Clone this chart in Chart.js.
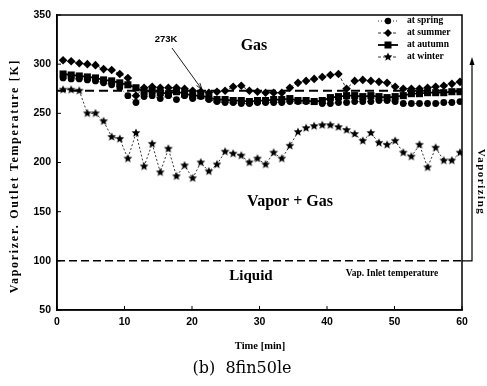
<!DOCTYPE html>
<html><head><meta charset="utf-8">
<script src="https://cdn.jsdelivr.net/npm/chart.js@4/dist/chart.umd.min.js"></script>
<style>html,body{margin:0;padding:0;background:#fff;}#wrap{position:relative;width:487px;height:386px;}</style>
</head><body><div id="wrap"><canvas id="c" width="487" height="386"></canvas></div>
<script>
// ---- data ----
const times = [0.9,2.1,3.3,4.5,5.7,6.9,8.1,9.3,10.5,11.7,12.9,14.1,15.3,16.5,17.7,18.9,20.1,21.3,22.5,23.7,24.9,26.1,27.3,28.5,29.7,30.9,32.1,33.3,34.5,35.7,36.9,38.1,39.3,40.5,41.7,42.9,44.1,45.3,46.5,47.7,48.9,50.1,51.3,52.5,53.7,54.9,56.1,57.3,58.5,59.7];
const spring = [286,285,285,284,283,281,279,276,268,261,267,268,265,268,264,268,265,267,264,262,261,261,260,260,261,261,261,261,262,262,262,262,260,260,261,261,262,262,262,263,263,262,260,260,260,260,260,261,261,262];
const summer = [304,303,301,300,299,295,294,290,286,268,276,277,276,276,276,275,273,272,271,272,273,277,278,273,272,271,271,271,276,281,283,285,287,289,290,275,283,284,283,282,281,277,275,275,275,276,277,278,280,282];
const autumn = [290,289,288,287,286,284,283,281,279,276,272,273,271,270,272,270,268,268,266,264,264,263,263,262,263,263,264,264,265,263,263,262,263,266,267,268,268,267,268,267,266,267,268,270,270,271,271,271,272,272];
const winter = [274,274,273,250,250,242,226,224,204,230,196,219,190,214,186,197,184,200,191,198,211,209,207,200,204,198,210,204,217,231,235,237,238,238,236,233,229,222,230,220,218,222,210,206,218,195,215,202,202,210];
const seriesNames = ['at spring','at summer','at autumn','at winter'];
const xTicks = [0,10,20,30,40,50,60];
const yTicks = [50,100,150,200,250,300,350];
const gasTemp = [273,273];      // 273K reference line
const inletTemp = [100,100];    // Vap. inlet temperature line
const refX = [0,60];

function starCanvas(r){
  const s=Math.ceil(r*2+2);const c=document.createElement('canvas');c.width=s;c.height=s;
  const g=c.getContext('2d');g.fillStyle='#000';g.beginPath();
  for(let i=0;i<10;i++){const a=-Math.PI/2+i*Math.PI/5;const rr=i%2?r*0.45:r;g.lineTo(s/2+rr*Math.cos(a),s/2+rr*Math.sin(a));}
  g.closePath();g.fill();return c;
}
const starImg = starCanvas(4.6);
const pts = arr => arr.map((v,i)=>({x:times[i],y:v}));
const refPts = arr => arr.map((v,i)=>({x:refX[i],y:v}));

const F_SERIF = '"Liberation Serif","Times New Roman",serif';
const F_SANS = '"Liberation Sans",Arial,sans-serif';
const F_CAP = '"DejaVu Serif",serif';

function legendSample(ctx,x,y,i){
  ctx.save();ctx.strokeStyle='#000';ctx.fillStyle='#000';
  const styles=[{w:0.8,d:[1,2]},{w:0.8,d:[3,2]},{w:1.8,d:[]},{w:0.8,d:[3,2]}];
  ctx.lineWidth=styles[i].w;ctx.setLineDash(styles[i].d);
  ctx.beginPath();ctx.moveTo(x-10,y);ctx.lineTo(x+10,y);ctx.stroke();ctx.setLineDash([]);
  if(i===0){ctx.beginPath();ctx.arc(x,y,3.2,0,Math.PI*2);ctx.fill();}
  else if(i===1){ctx.beginPath();ctx.moveTo(x,y-4);ctx.lineTo(x+4,y);ctx.lineTo(x,y+4);ctx.lineTo(x-4,y);ctx.closePath();ctx.fill();}
  else if(i===2){ctx.fillRect(x-3.5,y-3.5,7,7);}
  else {ctx.drawImage(starImg,x-starImg.width/2,y-starImg.height/2);}
  ctx.restore();
}

const decor = {
  id:'decor',
  afterDraw(chart){
    const ctx=chart.ctx, a=chart.chartArea, xs=chart.scales.x, ys=chart.scales.y;
    ctx.save();
    ctx.strokeStyle='#000';ctx.fillStyle='#000';
    // frame
    ctx.lineWidth=1.5;ctx.strokeRect(a.left,a.top,a.right-a.left,a.bottom-a.top);
    // inside ticks
    ctx.lineWidth=1;
    xTicks.forEach(v=>{const px=xs.getPixelForValue(v);ctx.beginPath();ctx.moveTo(px,a.bottom);ctx.lineTo(px,a.bottom-4);ctx.stroke();});
    yTicks.forEach(v=>{const py=ys.getPixelForValue(v);ctx.beginPath();ctx.moveTo(a.left,py);ctx.lineTo(a.left+4,py);ctx.stroke();});
    // region labels
    ctx.textAlign='center';ctx.textBaseline='middle';
    ctx.font='bold 16px '+F_SERIF;ctx.fillText('Gas',254,46);
    ctx.fillText('Vapor + Gas',290,202);
    ctx.font='bold 15px '+F_SERIF;ctx.fillText('Liquid',251,276);
    ctx.font='bold 9.5px '+F_SERIF;ctx.fillText('Vap. Inlet temperature',392,274);
    ctx.font='bold 9.5px '+F_SANS;ctx.fillText('273K',166,39);
    // 273K arrow
    const tx=xs.getPixelForValue(21.5), ty=ys.getPixelForValue(273);
    ctx.lineWidth=0.9;ctx.beginPath();ctx.moveTo(172,48);ctx.lineTo(tx,ty-1);ctx.stroke();
    let ang=Math.atan2(ty-1-48,tx-172);
    ctx.beginPath();ctx.moveTo(tx,ty-1);ctx.lineTo(tx-7*Math.cos(ang-0.3),ty-1-7*Math.sin(ang-0.3));
    ctx.moveTo(tx,ty-1);ctx.lineTo(tx-7*Math.cos(ang+0.3),ty-1-7*Math.sin(ang+0.3));ctx.stroke();
    // vaporizing arrow
    const y100=ys.getPixelForValue(100);
    ctx.lineWidth=1.2;ctx.beginPath();ctx.moveTo(a.right,y100);ctx.lineTo(472,y100);ctx.lineTo(472,60);ctx.stroke();
    ctx.beginPath();ctx.moveTo(472,57);ctx.lineTo(469.5,65);ctx.lineTo(474.5,65);ctx.closePath();ctx.fill();
    ctx.save();ctx.translate(481,182);ctx.rotate(Math.PI/2);ctx.font='bold 11px '+F_SERIF;
    if('letterSpacing' in ctx) ctx.letterSpacing='1.5px';
    ctx.fillText('Vaporizing',0,0);ctx.restore();
    // legend
    ctx.textAlign='left';ctx.font='bold 9.5px '+F_SERIF;
    const ly=[21,33,45,57];
    seriesNames.forEach((n,i)=>{legendSample(ctx,388,ly[i],i);ctx.fillText(n,407,ly[i]);});
    // axis titles
    ctx.textAlign='center';
    ctx.font='bold 10.5px '+F_SERIF;ctx.fillText('Time [min]',260,346);
    ctx.save();ctx.translate(15,176);ctx.rotate(-Math.PI/2);ctx.font='bold 12px '+F_SERIF;
    if('letterSpacing' in ctx) ctx.letterSpacing='1.7px';
    ctx.fillText('Vaporizer. Outlet Temperature [K]',0,0);ctx.restore();
    // caption
    ctx.font='16px '+F_CAP;ctx.fillText('(b)  8fin50le',242,369);
    ctx.restore();
  }
};

new Chart(document.getElementById('c'),{
  type:'line',
  data:{datasets:[
    {label:'273K',data:refPts(gasTemp),borderColor:'#000',borderWidth:2,borderDash:[9,5],pointRadius:0,fill:false},
    {label:'inlet',data:refPts(inletTemp),borderColor:'#000',borderWidth:1.5,borderDash:[8,4],pointRadius:0,fill:false},
    {label:seriesNames[3],data:pts(winter),borderColor:'#000',backgroundColor:'#000',borderWidth:0.8,borderDash:[2,2],pointStyle:starImg,pointRadius:4.5},
    {label:seriesNames[0],data:pts(spring),borderColor:'#000',backgroundColor:'#000',borderWidth:0.8,borderDash:[1,2],pointStyle:'circle',pointRadius:3.4,pointBorderWidth:0},
    {label:seriesNames[1],data:pts(summer),borderColor:'#000',backgroundColor:'#000',borderWidth:0.8,borderDash:[3,2],pointStyle:'rectRot',pointRadius:4.3,pointBorderWidth:0},
    {label:seriesNames[2],data:pts(autumn),borderColor:'#000',backgroundColor:'#000',borderWidth:1.8,pointStyle:'rect',pointRadius:5,pointBorderWidth:0}
  ]},
  options:{
    responsive:false,animation:false,devicePixelRatio:1,
    layout:{padding:{left:0,top:15,right:25,bottom:0}},
    plugins:{legend:{display:false},tooltip:{enabled:false}},
    elements:{line:{tension:0}},
    scales:{
      x:{type:'linear',min:0,max:60,afterFit:s=>{s.height=76;},
        afterBuildTicks:s=>{s.ticks=xTicks.map(v=>({value:v}));},
        ticks:{color:'#000',font:{family:F_SANS,size:10.5,weight:'bold'},padding:6,maxRotation:0},
        grid:{drawOnChartArea:false,drawTicks:false},border:{color:'#000',width:1.5}},
      y:{min:50,max:350,afterFit:s=>{s.width=57;},
        afterBuildTicks:s=>{s.ticks=yTicks.map(v=>({value:v}));},
        ticks:{color:'#000',font:{family:F_SANS,size:10.5,weight:'bold'},padding:6},
        grid:{drawOnChartArea:false,drawTicks:false},border:{color:'#000',width:1.5}}
    }
  },
  plugins:[decor]
});
</script></body></html>
